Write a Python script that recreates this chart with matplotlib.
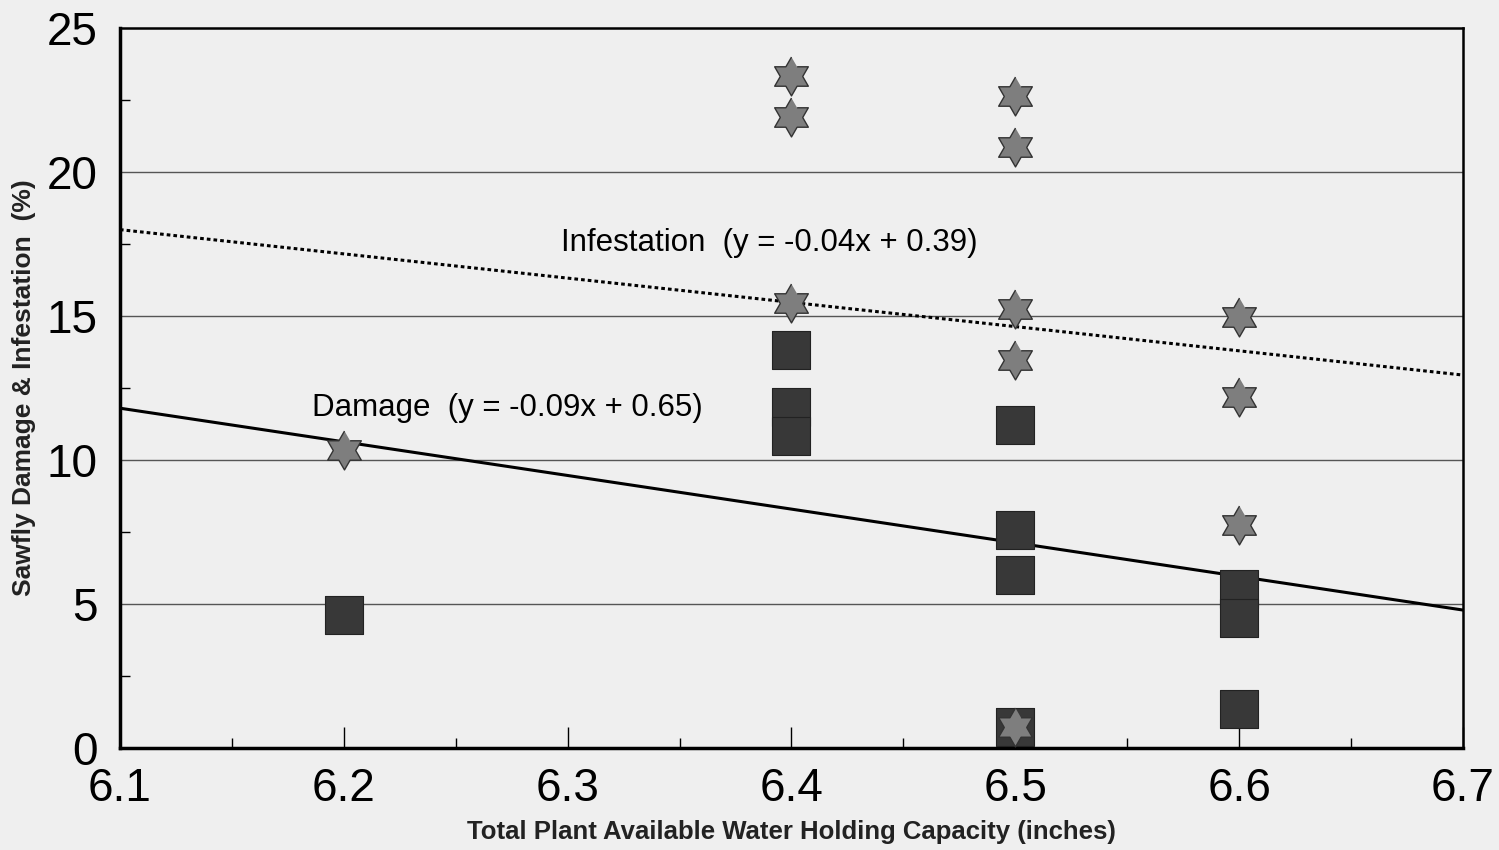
#!/usr/bin/env python3
"""Sawfly damage & infestation vs water holding capacity."""
import numpy as np
import matplotlib
matplotlib.use('Agg')
import matplotlib.pyplot as plt
from matplotlib.ticker import MultipleLocator

plt.rcParams['font.family'] = ['Liberation Sans', 'DejaVu Sans']

# Infestation points (stars)
inf_x = [6.2, 6.4, 6.4, 6.4, 6.5, 6.5, 6.5, 6.5, 6.5, 6.6, 6.6, 6.6]
inf_y = [10.35, 23.33, 21.9, 15.45, 22.64, 20.87, 15.24, 13.47, 0.73, 14.97, 12.19, 7.74]

# Damage points (squares)
dmg_x = [6.2, 6.4, 6.4, 6.4, 6.5, 6.5, 6.5, 6.5, 6.6, 6.6, 6.6]
dmg_y = [4.62, 13.82, 11.84, 10.83, 11.22, 7.57, 6.0, 0.73, 5.52, 4.51, 1.35]

# Trend lines (end points)
line_x = [6.1, 6.7]
inf_line = [18.0, 12.95]
dmg_line = [11.8, 4.79]

bg = '#efefef'

# six-pointed star marker
ang = np.deg2rad(90 + 30 * np.arange(12))
rad = np.where(np.arange(12) % 2 == 0, 1.0, 0.577)
hexagram = list(zip(rad * np.cos(ang), rad * np.sin(ang)))

fig = plt.figure(figsize=(14.99, 8.5), dpi=100, facecolor=bg)
ax = fig.add_axes([0.080, 0.12, 0.896, 0.847], facecolor=bg)

for y in [5, 10, 15, 20]:
    ax.axhline(y, color='#555555', linewidth=1.0, zorder=1)

ax.plot(line_x, dmg_line, color='black', linewidth=2.2, zorder=2)
ax.plot(line_x, inf_line, color='black', linewidth=2.2, linestyle=(0, (1.2, 1.0)), zorder=2)

ax.scatter(dmg_x, dmg_y, marker='s', s=27**2, color='#383838',
           edgecolor='#222222', linewidth=0.8, zorder=3)
ax.scatter(inf_x, inf_y, marker=hexagram, s=28**2, color='#7e7e7e',
           edgecolor='#333333', linewidth=1.0, zorder=4)

ax.text(6.186, 11.8, 'Damage  (y = -0.09x + 0.65)', fontsize=22.5,
        ha='left', va='center', zorder=5)
ax.text(6.297, 17.53, 'Infestation  (y = -0.04x + 0.39)', fontsize=22.5,
        ha='left', va='center', zorder=5)

ax.set_xlim(6.1, 6.7)
ax.set_ylim(0, 25)
ax.xaxis.set_major_locator(MultipleLocator(0.1))
ax.xaxis.set_minor_locator(MultipleLocator(0.05))
ax.yaxis.set_major_locator(MultipleLocator(5))
ax.yaxis.set_minor_locator(MultipleLocator(2.5))
ax.set_xticklabels([f'{v:.1f}' for v in ax.get_xticks()])
ax.tick_params(axis='both', which='major', labelsize=33, direction='in')
ax.tick_params(axis='x', which='major', length=15, width=1, pad=14)
ax.tick_params(axis='x', which='minor', length=7, width=1, direction='in')
ax.tick_params(axis='y', which='major', length=0, pad=16)
ax.tick_params(axis='y', which='minor', length=7, width=1, direction='in')

for side in ['left', 'bottom']:
    ax.spines[side].set_linewidth(2.5)
for side in ['top', 'right']:
    ax.spines[side].set_linewidth(1.8)

ax.set_xlabel('Total Plant Available Water Holding Capacity (inches)',
              fontsize=18.5, fontweight='bold', color='#222222', labelpad=6)
ax.set_ylabel('Sawfly Damage & Infestation  (%)',
              fontsize=19, fontweight='bold', color='#222222', labelpad=8)

fig.savefig('out.png', dpi=100, facecolor=bg)
